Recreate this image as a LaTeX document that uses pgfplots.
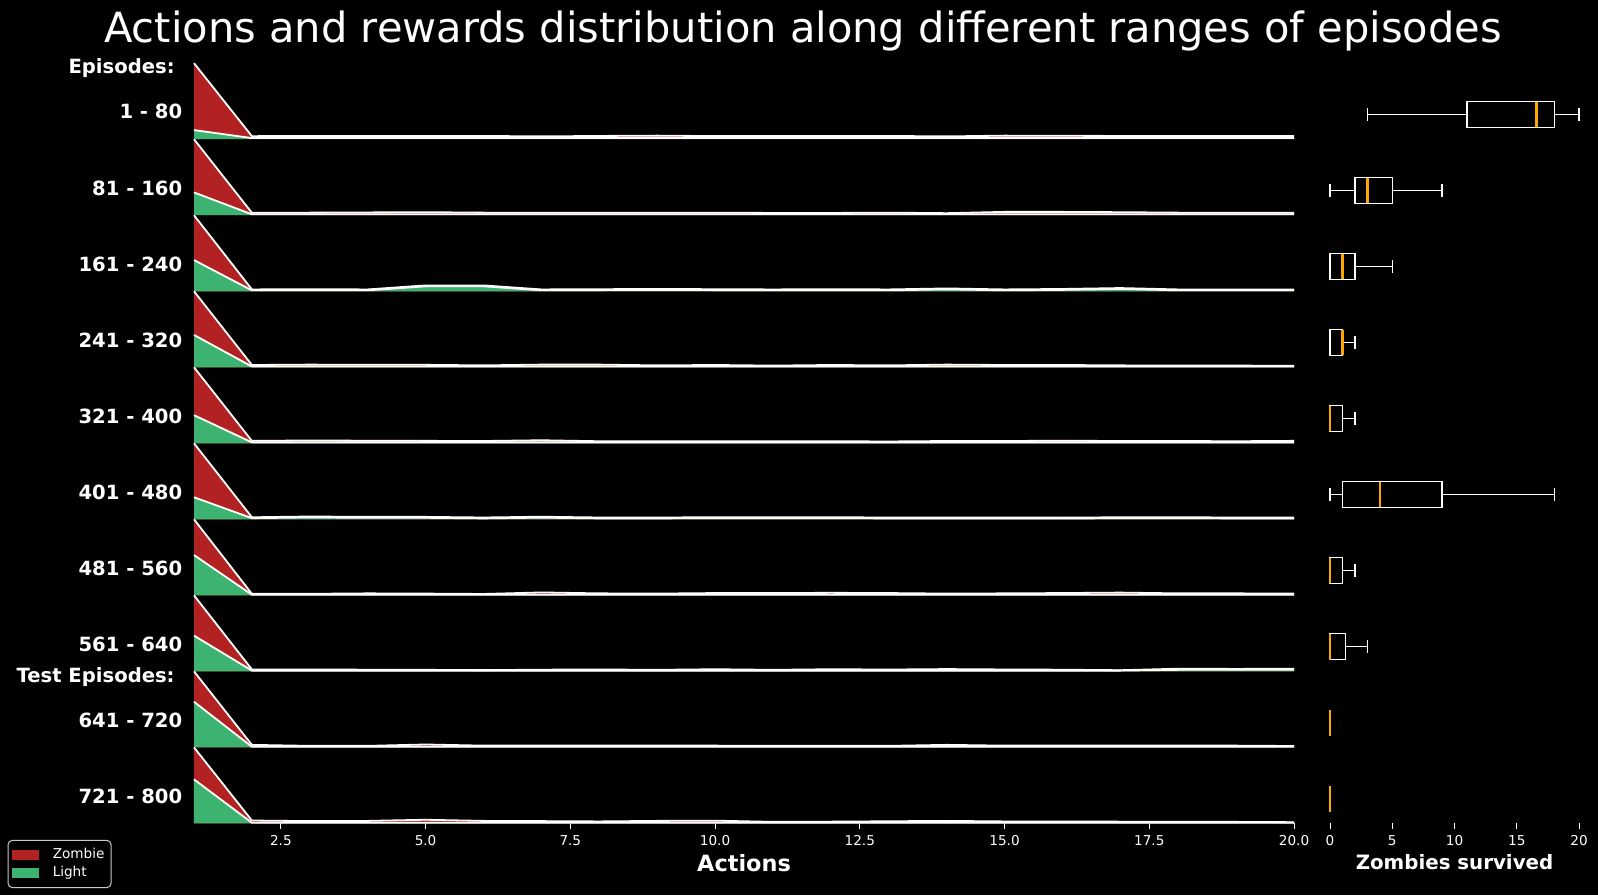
\documentclass[border=0pt]{standalone}
\usepackage{fontspec}
\setmainfont{DejaVu Sans}
\usepackage{pgfplots}
\pgfplotsset{compat=1.18}
\usepackage{pgfplotstable}
\usepgfplotslibrary{statistics}
\definecolor{zred}{RGB}{178,34,34}
\definecolor{zgreen}{RGB}{60,179,113}
\definecolor{zorange}{RGB}{255,165,0}
\definecolor{lgray}{RGB}{200,200,200}

\pgfplotstableread{
x g r
1 0.12 0.88
2 0.015 0.025
3 0.015 0.028
4 0.015 0.028
5 0.015 0.028
6 0.015 0.028
7 0.015 0.022
8 0.015 0.028
9 0.015 0.032
10 0.015 0.026
11 0.015 0.028
12 0.015 0.028
13 0.015 0.028
14 0.015 0.022
15 0.015 0.032
16 0.015 0.030
17 0.015 0.028
18 0.015 0.028
19 0.015 0.028
20 0.015 0.028
}\rowA
\pgfplotstableread{
x g r
1 0.30 0.70
2 0.012 0.020
3 0.012 0.022
4 0.012 0.025
5 0.012 0.028
6 0.012 0.022
7 0.012 0.022
8 0.012 0.020
9 0.012 0.020
10 0.012 0.022
11 0.012 0.018
12 0.012 0.018
13 0.012 0.022
14 0.012 0.015
15 0.012 0.032
16 0.012 0.032
17 0.012 0.028
18 0.012 0.022
19 0.012 0.020
20 0.012 0.020
}\rowB
\pgfplotstableread{
x g r
1 0.41 0.59
2 0.012 0.012
3 0.015 0.012
4 0.012 0.012
5 0.065 0.012
6 0.065 0.012
7 0.012 0.012
8 0.015 0.012
9 0.018 0.012
10 0.015 0.012
11 0.012 0.012
12 0.015 0.012
13 0.012 0.012
14 0.025 0.012
15 0.012 0.012
16 0.018 0.012
17 0.030 0.012
18 0.012 0.012
19 0.012 0.012
20 0.012 0.012
}\rowC
\pgfplotstableread{
x g r
1 0.425 0.575
2 0.010 0.020
3 0.010 0.025
4 0.010 0.022
5 0.010 0.022
6 0.010 0.015
7 0.010 0.025
8 0.010 0.025
9 0.010 0.015
10 0.010 0.020
11 0.010 0.012
12 0.010 0.020
13 0.010 0.015
14 0.010 0.025
15 0.010 0.020
16 0.010 0.020
17 0.010 0.015
18 0.010 0.012
19 0.010 0.012
20 0.010 0.010
}\rowD
\pgfplotstableread{
x g r
1 0.37 0.63
2 0.012 0.020
3 0.012 0.025
4 0.012 0.022
5 0.012 0.020
6 0.012 0.018
7 0.012 0.028
8 0.012 0.015
9 0.012 0.015
10 0.012 0.015
11 0.012 0.015
12 0.012 0.015
13 0.012 0.012
14 0.012 0.018
15 0.012 0.018
16 0.012 0.022
17 0.012 0.018
18 0.012 0.018
19 0.012 0.015
20 0.012 0.020
}\rowE
\pgfplotstableread{
x g r
1 0.29 0.71
2 0.015 0.012
3 0.025 0.012
4 0.020 0.012
5 0.020 0.012
6 0.012 0.012
7 0.022 0.012
8 0.012 0.012
9 0.012 0.012
10 0.015 0.012
11 0.015 0.012
12 0.015 0.012
13 0.012 0.012
14 0.012 0.012
15 0.012 0.012
16 0.010 0.012
17 0.015 0.012
18 0.015 0.012
19 0.012 0.012
20 0.012 0.012
}\rowF
\pgfplotstableread{
x g r
1 0.53 0.47
2 0.008 0.012
3 0.008 0.012
4 0.008 0.018
5 0.008 0.015
6 0.008 0.010
7 0.008 0.030
8 0.008 0.018
9 0.008 0.015
10 0.008 0.022
11 0.008 0.022
12 0.008 0.025
13 0.008 0.022
14 0.008 0.015
15 0.008 0.018
16 0.008 0.022
17 0.008 0.028
18 0.008 0.018
19 0.008 0.018
20 0.008 0.015
}\rowG
\pgfplotstableread{
x g r
1 0.47 0.53
2 0.010 0.015
3 0.010 0.015
4 0.010 0.012
5 0.010 0.010
6 0.010 0.006
7 0.010 0.012
8 0.010 0.015
9 0.010 0.010
10 0.010 0.018
11 0.010 0.010
12 0.010 0.018
13 0.010 0.014
14 0.010 0.020
15 0.010 0.015
16 0.010 0.012
17 0.010 0.005
18 0.020 0.015
19 0.020 0.012
20 0.020 0.015
}\rowH
\pgfplotstableread{
x g r
1 0.60 0.40
2 0.008 0.025
3 0.008 0.012
4 0.008 0.012
5 0.008 0.030
6 0.008 0.015
7 0.008 0.015
8 0.008 0.018
9 0.008 0.018
10 0.008 0.015
11 0.008 0.012
12 0.008 0.012
13 0.008 0.012
14 0.008 0.025
15 0.008 0.015
16 0.008 0.015
17 0.008 0.018
18 0.008 0.015
19 0.008 0.015
20 0.008 0.010
}\rowI
\pgfplotstableread{
x g r
1 0.58 0.42
2 0.008 0.030
3 0.008 0.022
4 0.008 0.025
5 0.008 0.040
6 0.008 0.025
7 0.008 0.022
8 0.008 0.018
9 0.008 0.025
10 0.008 0.028
11 0.008 0.012
12 0.008 0.015
13 0.008 0.020
14 0.008 0.025
15 0.008 0.018
16 0.008 0.018
17 0.008 0.015
18 0.008 0.015
19 0.008 0.012
20 0.008 0.008
}\rowJ

\pgfplotsset{
  ridge/.style={scale only axis, width=550pt, height=38.01pt, anchor=south west,
    xmin=1, xmax=20, ymin=0, ymax=1, clip=false,
    legend image code/.code={\fill[##1, sharp corners] (0pt,-2.6pt) rectangle (13.5pt,2.6pt);
      \path (19pt,0pt);}},
  hidden/.style={hide axis},
  bottomrow/.style={axis line style={draw=none}, ytick=\empty,
    xtick={2.5,5,7.5,10,12.5,15,17.5,20}, xtick pos=left, tick align=outside,
    major tick length=2.6pt, xtick style={draw=white, line width=0.5pt},
    xticklabel style={text=white, font=\fontsize{6.8}{8}\selectfont},
    /pgf/number format/.cd, fixed, fixed zerofill, precision=1, assume math mode=true},
  med/.style={zorange, line width=1.2pt},
}
\tikzset{rowlab/.style={anchor=east, inner sep=0pt, xshift=-5.7pt, text=white,
  font=\bfseries\fontsize{9.8}{11}\selectfont}}

\newcommand{\ridgerow}[4][hidden]{%
  \begin{axis}[ridge, at={(97pt,#3)}, #1]
  \addplot[fill=zred, draw=none] table[x=x, y expr=\thisrow{g}+\thisrow{r}] {#2} \closedcycle;
  \addplot[fill=zgreen, draw=none] table[x=x, y=g] {#2} \closedcycle;
  \addplot[white, line width=0.9pt, forget plot] table[x=x, y=g] {#2};
  \addplot[white, line width=0.9pt, forget plot] table[x=x, y expr=\thisrow{g}+\thisrow{r}] {#2};
  \node[rowlab] at (axis description cs:0,0.36) {#4};
  \end{axis}}

\begin{document}
\begin{tikzpicture}
\useasboundingbox (0,0) rectangle (799pt,447.5pt);
\fill[black] (0,0) rectangle (799pt,447.5pt);

\ridgerow{\rowA}{377.89pt}{1 - 80}
\ridgerow{\rowB}{339.88pt}{81 - 160}
\ridgerow{\rowC}{301.87pt}{161 - 240}
\ridgerow{\rowD}{263.86pt}{241 - 320}
\ridgerow{\rowE}{225.85pt}{321 - 400}
\ridgerow{\rowF}{187.84pt}{401 - 480}
\ridgerow{\rowG}{149.83pt}{481 - 560}
\ridgerow{\rowH}{111.82pt}{561 - 640}
\ridgerow{\rowI}{73.81pt}{641 - 720}
\ridgerow[bottomrow, legend entries={Zombie,Light}, legend cell align=left,
  legend style={at={(-0.1694,-0.85)}, anchor=south west, fill=black, draw=lgray,
    text=white, rounded corners=2pt, line width=0.5pt,
    font=\fontsize{6.8}{8}\selectfont, inner xsep=2pt, inner ysep=2.5pt,
    nodes={inner sep=1.3pt}}]{\rowJ}{35.8pt}{721 - 800}

\begin{axis}[scale only axis, width=124.5pt, height=380.1pt, at={(665pt,35.8pt)},
  anchor=south west, xmin=0, xmax=20, ymin=0, ymax=10,
  axis line style={draw=none}, ytick=\empty, xtick={0,5,10,15,20}, xtick pos=left,
  tick align=outside, major tick length=2.6pt, xtick style={draw=white, line width=0.5pt},
  xticklabel style={text=white, font=\fontsize{6.8}{8}\selectfont},
  /pgf/number format/assume math mode=true, clip=false,
  boxplot/draw direction=x, boxplot/box extend=0.338, boxplot/whisker extend=0.169,
  boxplot/every median/.style={draw=none}]
\addplot[draw=white, line width=0.6pt, boxplot prepared={draw position=9.325,
  lower whisker=3, lower quartile=11, median=16.6, upper quartile=18, upper whisker=20}] coordinates {};
\addplot[draw=white, line width=0.6pt, boxplot prepared={draw position=8.325,
  lower whisker=0, lower quartile=2, median=3, upper quartile=5, upper whisker=9}] coordinates {};
\addplot[draw=white, line width=0.6pt, boxplot prepared={draw position=7.325,
  lower whisker=0, lower quartile=0, median=1, upper quartile=2, upper whisker=5}] coordinates {};
\addplot[draw=white, line width=0.6pt, boxplot prepared={draw position=6.325,
  lower whisker=0, lower quartile=0, median=1, upper quartile=1, upper whisker=2}] coordinates {};
\addplot[draw=white, line width=0.6pt, boxplot prepared={draw position=5.325,
  lower whisker=0, lower quartile=0, median=0, upper quartile=1, upper whisker=2}] coordinates {};
\addplot[draw=white, line width=0.6pt, boxplot prepared={draw position=4.325,
  lower whisker=0, lower quartile=1, median=4, upper quartile=9, upper whisker=18}] coordinates {};
\addplot[draw=white, line width=0.6pt, boxplot prepared={draw position=3.325,
  lower whisker=0, lower quartile=0, median=0, upper quartile=1, upper whisker=2}] coordinates {};
\addplot[draw=white, line width=0.6pt, boxplot prepared={draw position=2.325,
  lower whisker=0, lower quartile=0, median=0, upper quartile=1.25, upper whisker=3}] coordinates {};
% medians (orange), drawn on top of the boxes
\addplot[med] coordinates {(16.6,9.156) (16.6,9.494)};
\addplot[med] coordinates {(3,8.156) (3,8.494)};
\addplot[med] coordinates {(1,7.156) (1,7.494)};
\addplot[med] coordinates {(1,6.156) (1,6.494)};
\addplot[med] coordinates {(0,5.156) (0,5.494)};
\addplot[med] coordinates {(4,4.156) (4,4.494)};
\addplot[med] coordinates {(0,3.156) (0,3.494)};
\addplot[med] coordinates {(0,2.156) (0,2.494)};
\addplot[med] coordinates {(0,1.156) (0,1.494)};
\addplot[med] coordinates {(0,0.156) (0,0.494)};
\end{axis}

\node[anchor=base, inner sep=0pt, text=white, font=\fontsize{20.8}{25}\selectfont]
  at (401.5pt,426.1pt) {Actions and rewards distribution along different ranges of episodes};
\node[anchor=east, inner sep=0pt, text=white, font=\bfseries\fontsize{9.8}{11}\selectfont]
  at (87.5pt,413.5pt) {Episodes:};
\node[anchor=east, inner sep=0pt, text=white, font=\bfseries\fontsize{9.8}{11}\selectfont]
  at (87.5pt,109pt) {Test Episodes:};
\node[anchor=base, inner sep=0pt, text=white, font=\bfseries\fontsize{11.2}{13}\selectfont]
  at (372pt,11.6pt) {Actions};
\node[anchor=base, inner sep=0pt, text=white, font=\bfseries\fontsize{9.9}{12}\selectfont]
  at (727.25pt,12.8pt) {Zombies survived};
\end{tikzpicture}
\end{document}
